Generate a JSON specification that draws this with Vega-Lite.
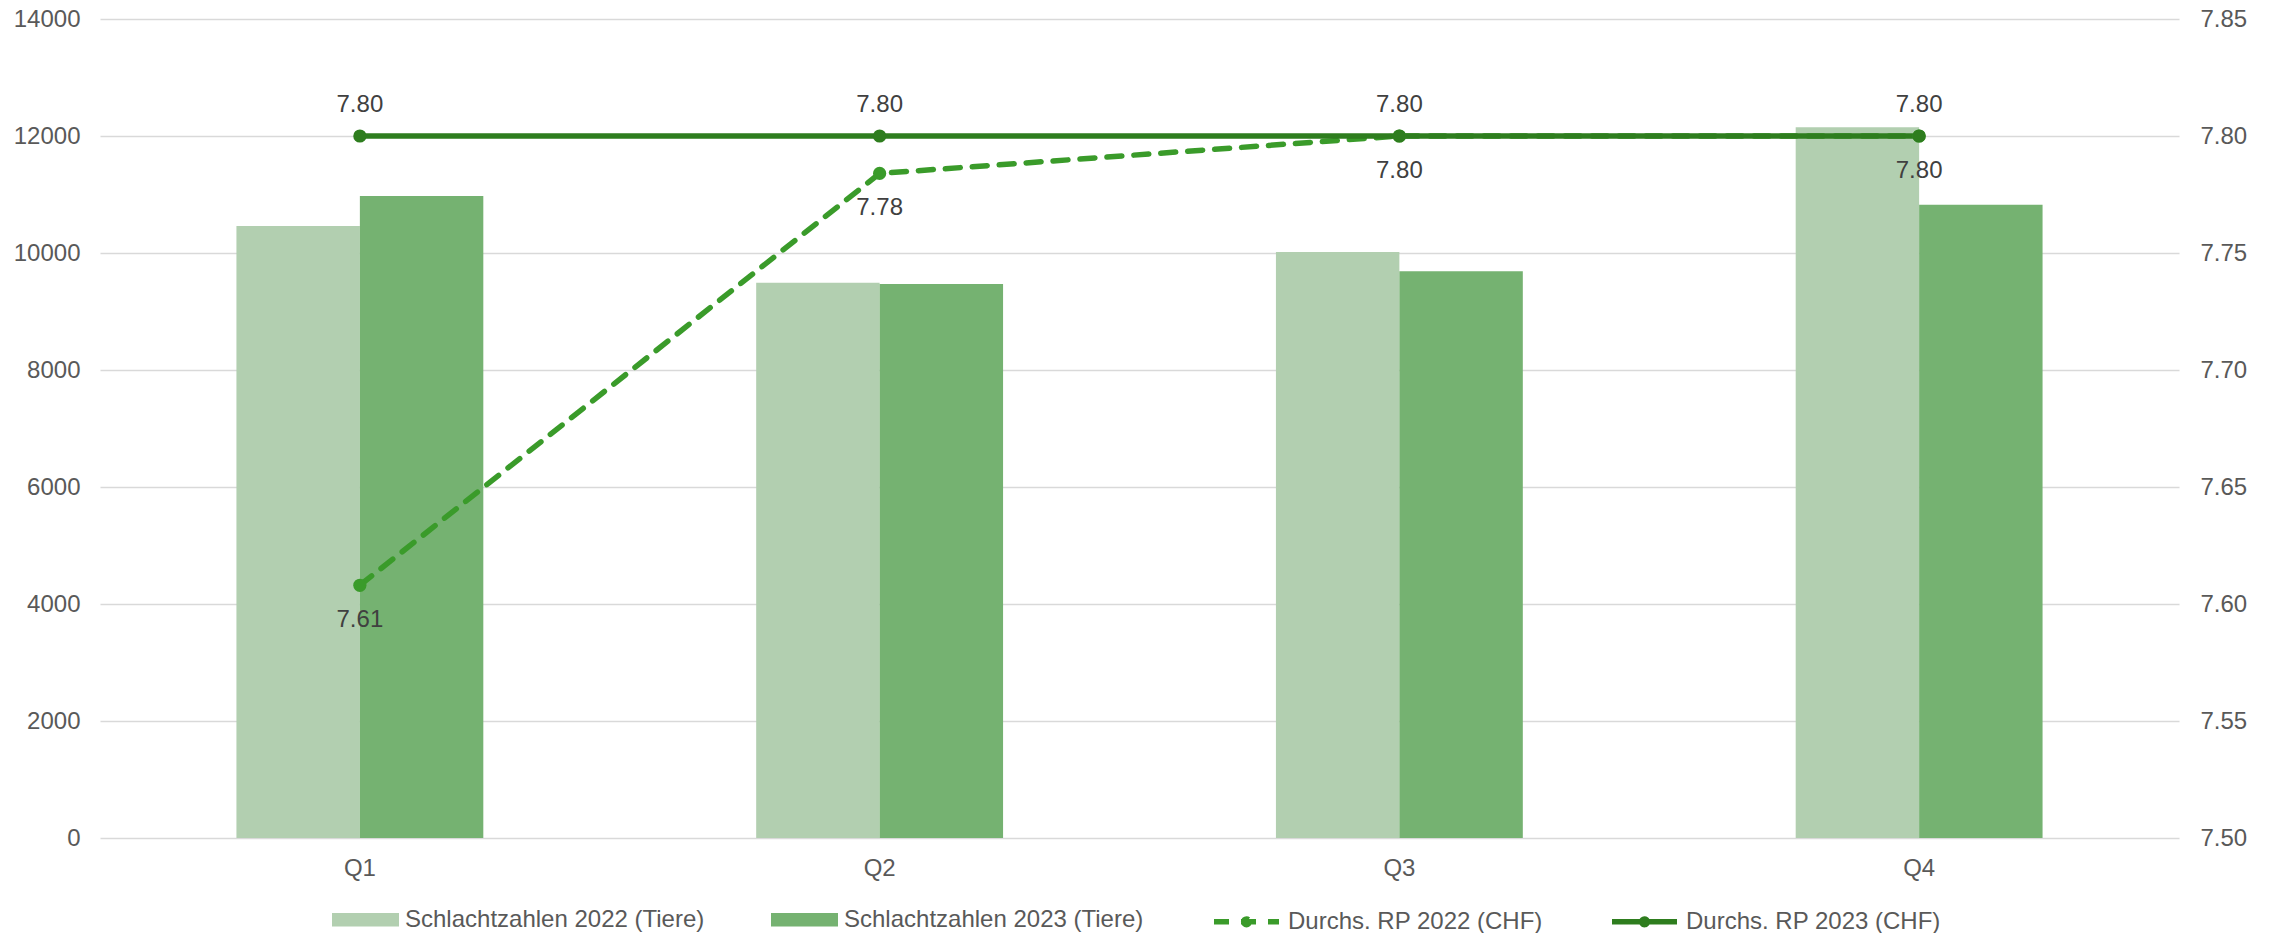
{
  "$schema": "https://vega.github.io/schema/vega-lite/v6.json",
  "width": 2079,
  "height": 819,
  "autosize": {"type": "none"},
  "padding": {"left": 100, "top": 19, "right": 95, "bottom": 95},
  "background": "white",
  "config": {
    "font": "Liberation Sans",
    "view": {"stroke": null},
    "axis": {"labelFont": "Liberation Sans", "labelFontSize": 24, "labelColor": "#595959", "domain": false, "ticks": false, "title": null}
  },
  "datasets": {
    "bars": [
      {"quarter": "Q1", "series": "Schlachtzahlen 2022 (Tiere)", "count": 10460},
      {"quarter": "Q1", "series": "Schlachtzahlen 2023 (Tiere)", "count": 10975},
      {"quarter": "Q2", "series": "Schlachtzahlen 2022 (Tiere)", "count": 9490},
      {"quarter": "Q2", "series": "Schlachtzahlen 2023 (Tiere)", "count": 9470},
      {"quarter": "Q3", "series": "Schlachtzahlen 2022 (Tiere)", "count": 10015},
      {"quarter": "Q3", "series": "Schlachtzahlen 2023 (Tiere)", "count": 9690},
      {"quarter": "Q4", "series": "Schlachtzahlen 2022 (Tiere)", "count": 12150},
      {"quarter": "Q4", "series": "Schlachtzahlen 2023 (Tiere)", "count": 10825}
    ],
    "prices": [
      {"quarter": "Q1", "series": "Durchs. RP 2022 (CHF)", "price": 7.608},
      {"quarter": "Q2", "series": "Durchs. RP 2022 (CHF)", "price": 7.784},
      {"quarter": "Q3", "series": "Durchs. RP 2022 (CHF)", "price": 7.80},
      {"quarter": "Q4", "series": "Durchs. RP 2022 (CHF)", "price": 7.80},
      {"quarter": "Q1", "series": "Durchs. RP 2023 (CHF)", "price": 7.80},
      {"quarter": "Q2", "series": "Durchs. RP 2023 (CHF)", "price": 7.80},
      {"quarter": "Q3", "series": "Durchs. RP 2023 (CHF)", "price": 7.80},
      {"quarter": "Q4", "series": "Durchs. RP 2023 (CHF)", "price": 7.80}
    ]
  },
  "layer": [
    {
      "data": {"name": "bars"},
      "mark": {"type": "bar"},
      "encoding": {
        "x": {
          "field": "quarter", "type": "nominal", "sort": ["Q1", "Q2", "Q3", "Q4"],
          "scale": {"paddingInner": 0.525, "paddingOuter": 0.2625},
          "axis": {"labelAngle": 0, "labelPadding": 18, "grid": false, "title": null}
        },
        "xOffset": {"field": "series", "type": "nominal", "scale": {"paddingInner": 0, "paddingOuter": 0}},
        "y": {
          "field": "count", "type": "quantitative",
          "scale": {"domain": [0, 14000], "nice": false},
          "axis": {"orient": "left", "values": [0, 2000, 4000, 6000, 8000, 10000, 12000, 14000], "format": "d", "labelPadding": 20, "grid": true, "gridColor": "#d9d9d9", "gridWidth": 1.5, "title": null}
        },
        "color": {
          "field": "series", "type": "nominal",
          "scale": {
            "domain": ["Schlachtzahlen 2022 (Tiere)", "Schlachtzahlen 2023 (Tiere)"],
            "range": ["#b2cfb0", "#75b271"]
          },
          "legend": {
            "orient": "none", "legendX": 231, "legendY": 866,
            "direction": "horizontal", "columns": 2, "columnPadding": 65,
            "title": null, "labelFontSize": 24, "labelColor": "#595959", "labelFont": "Liberation Sans",
            "labelOffset": 5, "symbolSize": 4489, "labelLimit": 0,
            "symbolType": "M-1,-0.2H1V0.2H-1Z"
          }
        }
      }
    },
    {
      "data": {"name": "prices"},
      "encoding": {
        "x": {
          "field": "quarter", "type": "nominal", "sort": ["Q1", "Q2", "Q3", "Q4"],
          "scale": {"paddingInner": 0.525, "paddingOuter": 0.2625},
          "axis": {"labelAngle": 0, "labelPadding": 18, "grid": false, "title": null}
        },
        "y": {
          "field": "price", "type": "quantitative",
          "scale": {"domain": [7.5, 7.85], "nice": false, "zero": false},
          "axis": {"orient": "right", "values": [7.5, 7.55, 7.6, 7.65, 7.7, 7.75, 7.8, 7.85], "format": ".2f", "labelPadding": 21, "grid": false, "title": null}
        }
      },
      "layer": [
        {
          "mark": {"type": "line", "strokeWidth": 5.5, "strokeCap": "round"},
          "encoding": {
            "stroke": {
              "field": "series", "type": "nominal",
              "scale": {"domain": ["Durchs. RP 2022 (CHF)", "Durchs. RP 2023 (CHF)"], "range": ["#3a9b2a", "#2e7d1e"]},
              "legend": {
                "orient": "none", "legendX": 1110, "legendY": 866,
                "direction": "horizontal", "columns": 2, "columnPadding": 58,
                "title": null, "labelFontSize": 24, "labelColor": "#595959", "labelFont": "Liberation Sans",
                "labelOffset": 5, "symbolSize": 4489, "labelLimit": 0, "symbolStrokeWidth": 5.5,
                "symbolType": "M-0.97,0H0.97M0.085,0A0.085,0.085,0,1,1,-0.085,0A0.085,0.085,0,1,1,0.085,0"
              }
            },
            "strokeDash": {
              "field": "series", "type": "nominal",
              "scale": {"domain": ["Durchs. RP 2022 (CHF)", "Durchs. RP 2023 (CHF)"], "range": [[15, 12], [1, 0]]},
              "legend": {
                "orient": "none", "legendX": 1110, "legendY": 866,
                "direction": "horizontal", "columns": 2, "columnPadding": 58,
                "title": null, "labelFontSize": 24, "labelColor": "#595959", "labelFont": "Liberation Sans",
                "labelOffset": 5, "symbolSize": 4489, "labelLimit": 0, "symbolStrokeWidth": 5.5,
                "symbolType": "M-0.97,0H0.97M0.085,0A0.085,0.085,0,1,1,-0.085,0A0.085,0.085,0,1,1,0.085,0"
              }
            }
          }
        },
        {
          "transform": [{"filter": "datum.series == 'Durchs. RP 2022 (CHF)'"}],
          "mark": {"type": "point", "filled": true, "size": 175, "opacity": 1, "color": "#3a9b2a"}
        },
        {
          "transform": [{"filter": "datum.series == 'Durchs. RP 2023 (CHF)'"}],
          "mark": {"type": "point", "filled": true, "size": 175, "opacity": 1, "color": "#2e7d1e"}
        },
        {
          "transform": [{"filter": "datum.series == 'Durchs. RP 2023 (CHF)'"}],
          "mark": {"type": "text", "baseline": "middle", "align": "center", "dy": -31, "fontSize": 24, "color": "#404040", "font": "Liberation Sans"},
          "encoding": {"text": {"field": "price", "type": "quantitative", "format": ".2f"}}
        },
        {
          "transform": [{"filter": "datum.series == 'Durchs. RP 2022 (CHF)'"}],
          "mark": {"type": "text", "baseline": "middle", "align": "center", "dy": 35, "fontSize": 24, "color": "#404040", "font": "Liberation Sans"},
          "encoding": {"text": {"field": "price", "type": "quantitative", "format": ".2f"}}
        }
      ]
    }
  ],
  "resolve": {"scale": {"y": "independent"}}
}
